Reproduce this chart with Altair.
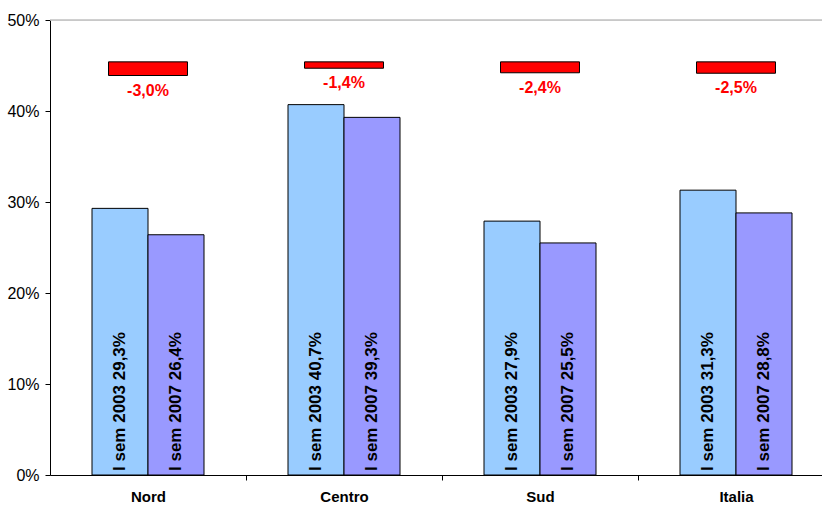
import altair as alt
import pandas as pd

# ---- data ----
categories = ["Nord", "Centro", "Sud", "Italia"]
periods = ["I sem 2003", "I sem 2007"]
values_2003 = [29.3, 40.7, 27.9, 31.3]
values_2007 = [26.4, 39.3, 25.5, 28.8]
differences = [-3.0, -1.4, -2.4, -2.5]
y_ticks = [0, 10, 20, 30, 40, 50]
period_colors = ["#99CCFF", "#9999FF"]


def fmt(v):
    return f"{v:.1f}".replace(".", ",") + "%"


BAR_W = 56 / 196      # bar width in category units
DIFF_W = 0.403        # red marker width in category units
DIFF_TOP = 45.4       # top of the red difference markers
FONT = "Liberation Sans"

rows = []
for i, c in enumerate(categories):
    for j, (p, v) in enumerate(zip(periods, [values_2003[i], values_2007[i]])):
        left = i + 0.5 - BAR_W + j * BAR_W
        rows.append({
            "cat": c, "period": p, "value": v, "zero": 0,
            "x0": left, "x1": left + BAR_W, "xm": left + BAR_W / 2,
            "label": f"{p} {fmt(v)}",
        })
bars_df = pd.DataFrame(rows)

diff_df = pd.DataFrame({
    "cat": categories,
    "d": differences,
    "xa": [i + 0.5 - DIFF_W / 2 for i in range(len(categories))],
    "xb": [i + 0.5 + DIFF_W / 2 for i in range(len(categories))],
    "xm": [i + 0.5 for i in range(len(categories))],
    "top": [DIFF_TOP] * len(categories),
    "bottom": [DIFF_TOP - abs(d) / 2 for d in differences],
    "label": [fmt(d) for d in differences],
})

x_max = 772 / 196
x_scale = alt.Scale(domain=[0, x_max], nice=False, zero=False)
y_scale = alt.Scale(domain=[0, 50], nice=False)

cat_js = "[" + ",".join(f"'{c}'" for c in categories) + "]"
x_axis = alt.Axis(
    values=[0.5, 1, 1.5, 2, 2.5, 3, 3.5],
    labelExpr=f"datum.value % 1 === 0 ? '' : {cat_js}[floor(datum.value)]",
    title=None, grid=False,
    domainColor="black", domainWidth=1,
    tickColor="black", tickSize=5,
    tickOpacity={"condition": {"test": "datum.value % 1 === 0", "value": 1}, "value": 0},
    labelFont=FONT, labelFontSize=15, labelFontWeight="bold", labelColor="black",
    labelPadding=9, labelFlush=False, labelOverlap=False,
)
y_axis = alt.Axis(
    values=y_ticks, labelExpr="datum.value + '%'",
    title=None, grid=False,
    domainColor="black", tickColor="black", tickSize=5,
    labelFont=FONT, labelFontSize=16, labelColor="black", labelPadding=6,
)

base_bars = alt.Chart(bars_df)
bars = base_bars.mark_bar(stroke="black", strokeWidth=1).encode(
    x=alt.X("x0:Q", scale=x_scale, axis=x_axis),
    x2="x1:Q",
    y=alt.Y("value:Q", scale=y_scale, axis=y_axis),
    y2="zero:Q",
    color=alt.Color("period:N", scale=alt.Scale(domain=periods, range=period_colors), legend=None),
)

bar_labels = base_bars.mark_text(
    angle=270, align="left", baseline="middle", dx=4,
    font=FONT, fontSize=17, fontWeight="bold", color="black",
).encode(
    x=alt.X("xm:Q", scale=x_scale, axis=x_axis),
    y=alt.Y("zero:Q", scale=y_scale, axis=y_axis),
    text="label:N",
)

base_diff = alt.Chart(diff_df)
diff_bars = base_diff.mark_bar(color="#FF0000", stroke="black", strokeWidth=1).encode(
    x=alt.X("xa:Q", scale=x_scale, axis=x_axis),
    x2="xb:Q",
    y=alt.Y("top:Q", scale=y_scale, axis=y_axis),
    y2="bottom:Q",
)
diff_labels = base_diff.mark_text(
    baseline="top", align="center", dy=7,
    font=FONT, fontSize=16, fontWeight="bold", color="#FF0000",
).encode(
    x=alt.X("xm:Q", scale=x_scale, axis=x_axis),
    y=alt.Y("bottom:Q", scale=y_scale, axis=y_axis),
    text="label:N",
)

top_line = alt.Chart(pd.DataFrame({"y": [50]})).mark_rule(color="#C0C0C0", strokeWidth=1.5).encode(
    y=alt.Y("y:Q", scale=y_scale, axis=y_axis)
)

chart = alt.layer(bars, top_line, bar_labels, diff_bars, diff_labels).properties(
    width=772, height=455,
    autosize=alt.AutoSizeParams(type="none"),
    padding={"left": 50, "top": 20, "right": 0, "bottom": 31},
).configure_view(stroke=None).configure(background="white")

chart.save("out.html", embed_options={"renderer": "svg", "actions": False})
